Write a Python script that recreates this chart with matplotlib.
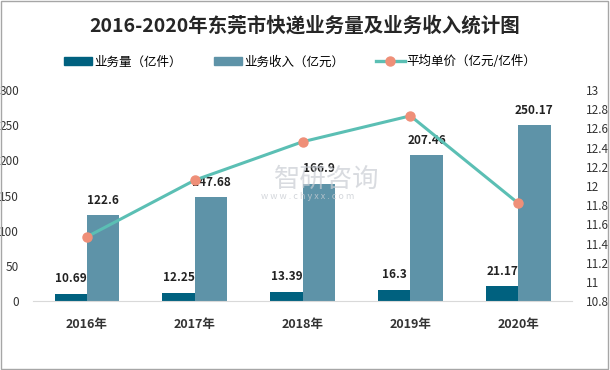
import matplotlib
matplotlib.use("Agg")
import matplotlib.pyplot as plt
from matplotlib.lines import Line2D
from matplotlib.patches import Patch, Rectangle
import numpy as np

plt.rcParams['font.family'] = ['Noto Sans CJK SC', 'DejaVu Sans']

years = ["2016年", "2017年", "2018年", "2019年", "2020年"]
volume = [10.69, 12.25, 13.39, 16.3, 21.17]
revenue = [122.6, 147.68, 166.9, 207.46, 250.17]
unit_price = [11.47, 12.06, 12.46, 12.73, 11.82]
left_ticks = [0, 50, 100, 150, 200, 250, 300]
right_ticks = [10.8, 11, 11.2, 11.4, 11.6, 11.8, 12, 12.2, 12.4, 12.6, 12.8, 13]

c_dark = "#00617F"
c_light = "#5E93A8"
c_line = "#5BBFB4"
c_marker = "#EF8F78"

fig = plt.figure(figsize=(6.1, 3.7), dpi=100)
ax = fig.add_axes([0.054, 0.186, 0.884, 0.571])
x = np.arange(len(years))
w = 0.3
ax.bar(x - w/2, volume, width=w, color=c_dark, zorder=2)
ax.bar(x + w/2, revenue, width=w, color=c_light, zorder=2)
ax.set_xlim(-0.5, len(years) - 0.5)
ax.set_ylim(0, 300)
ax.set_yticks(left_ticks)
ax.set_yticklabels([str(t) for t in left_ticks], fontsize=8.5, color="#333333")
ax.set_xticks(x)
ax.set_xticklabels(years, fontsize=9, fontweight="bold", color="#333333")
ax.tick_params(axis="both", length=0)
ax.tick_params(axis="x", pad=12)
ax.tick_params(axis="y", pad=10)
for s in ["top", "right", "left"]:
    ax.spines[s].set_visible(False)
ax.spines["bottom"].set_color("#D9D9D9")

for i in range(len(years)):
    ax.annotate(f"{volume[i]:g}", (x[i] - w/2, volume[i]), xytext=(0, 6),
                textcoords="offset points", ha="center", va="bottom",
                fontsize=8.5, fontweight="bold", color="#222222", zorder=5)
    ax.annotate(f"{revenue[i]:g}", (x[i] + w/2, revenue[i]), xytext=(0, 6),
                textcoords="offset points", ha="center", va="bottom",
                fontsize=8.5, fontweight="bold", color="#222222", zorder=5)

ax2 = ax.twinx()
ax2.plot(x, unit_price, color=c_line, lw=2.2, marker="o", markersize=6.5,
         markerfacecolor=c_marker, markeredgecolor=c_marker, zorder=4)
ax2.set_ylim(10.8, 13)
ax2.set_yticks(right_ticks)
ax2.set_yticklabels([f"{t:g}" for t in right_ticks], fontsize=8.5, color="#333333")
ax2.tick_params(axis="y", length=0, pad=10)
for s in ["top", "right", "left", "bottom"]:
    ax2.spines[s].set_visible(False)

# watermark
fig.text(0.535, 0.515, "智研咨询", fontsize=19, color="#C9CDD3", alpha=0.7,
         ha="center", va="center", zorder=0)
fig.text(0.505, 0.468, "w w w . c h y x x . c o m", fontsize=6.5, color="#C9CDD3",
         alpha=0.8, ha="center", va="center", zorder=0)

fig.text(0.5, 0.93, "2016-2020年东莞市快递业务量及业务收入统计图", fontsize=14,
         fontweight="bold", color="#262626", ha="center", va="center")

handles = [Patch(color=c_dark, label="业务量（亿件）"),
           Patch(color=c_light, label="业务收入（亿元）"),
           Line2D([0], [0], color=c_line, lw=2.4, marker="o", markersize=6.5,
                  markerfacecolor=c_marker, markeredgecolor=c_marker,
                  label="平均单价（亿元/亿件）")]
fig.legend(handles=handles, loc="center", bbox_to_anchor=(0.492, 0.833), ncol=3,
           frameon=False, fontsize=9, handlelength=2.25, handleheight=0.6,
           columnspacing=2.6, handletextpad=0.15)

fig.patches.append(Rectangle((0.002, 0.003), 0.995, 0.993, transform=fig.transFigure,
                             fill=False, edgecolor="#A6A6A6", lw=1))

fig.savefig("out.png", dpi=100)
